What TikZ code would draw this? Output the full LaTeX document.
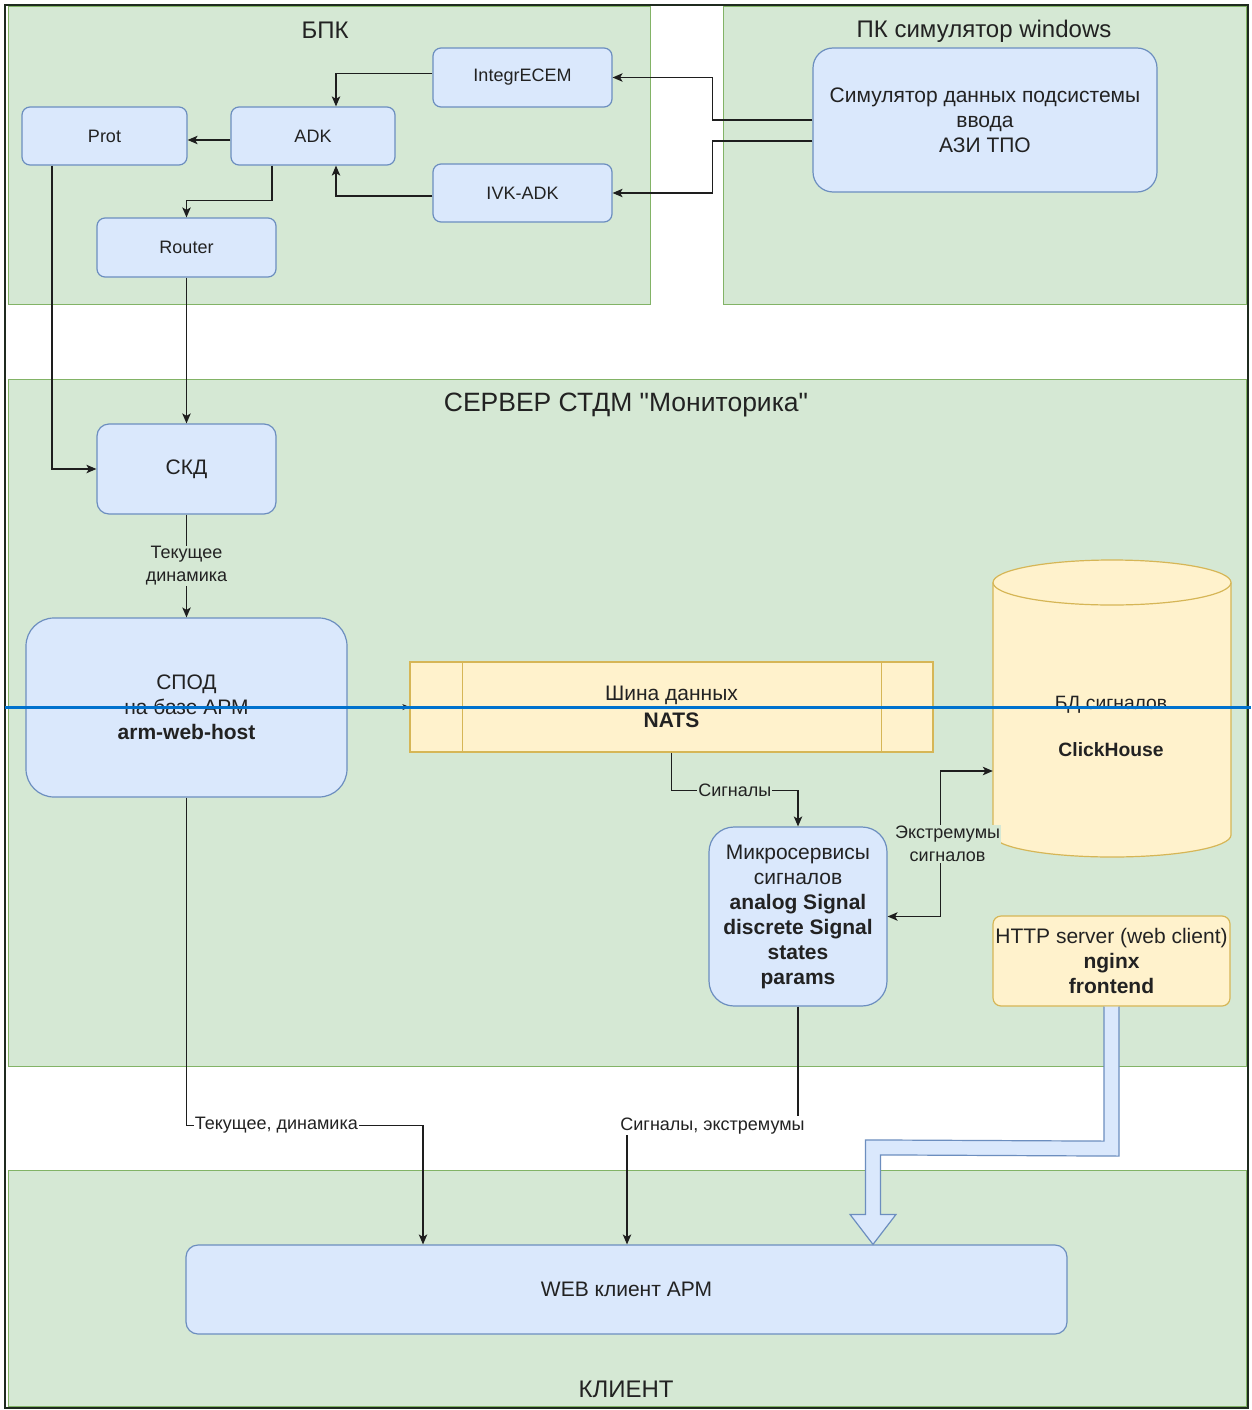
\documentclass[tikz,border=0pt]{standalone}
\usepackage{fontspec}
\setmainfont{Liberation Sans}[Ligatures=TeXOff]
\usetikzlibrary{arrows.meta,calc}
\definecolor{grpfill}{HTML}{D5E8D4}
\definecolor{grpline}{HTML}{82B366}
\definecolor{bfill}{HTML}{DAE8FC}
\definecolor{bline}{HTML}{6C8EBF}
\definecolor{yfill}{HTML}{FFF2CC}
\definecolor{yline}{HTML}{D6B656}
\definecolor{txt}{HTML}{222222}
\definecolor{edgecol}{HTML}{1E1E1E}
\definecolor{hiline}{RGB}{0,114,206}
\definecolor{frame}{HTML}{1F2A1F}
\begin{document}
\begin{tikzpicture}[x=1pt,y=-1pt,
  grp/.style={draw=grpline, fill=grpfill, line width=1pt},
  grptitle/.style={font=\fontsize{24}{28}\selectfont, text=txt, inner sep=0pt},
  bnode/.style={draw=bline, fill=bfill, line width=1.2pt, rounded corners=8pt, inner sep=0pt, text=txt, align=center, font=\fontsize{18}{22}\selectfont},
  bignode/.style={bnode, font=\fontsize{21}{25}\selectfont},
  ynode/.style={draw=yline, fill=yfill, line width=1.2pt, inner sep=0pt, text=txt, align=center, font=\fontsize{21}{25}\selectfont},
  arr/.style={draw=edgecol, line width=1.2pt, -{Stealth[length=10pt,width=8.5pt,inset=2.5pt]}},
  thinarr/.style={draw=edgecol, line width=0.8pt, -{Stealth[length=7pt,width=6pt,inset=2pt]}},
  elbl/.style={font=\fontsize{18}{23}\selectfont, text=txt, fill=grpfill, inner sep=1pt, align=center},
  elblw/.style={elbl, fill=white}
]
\useasboundingbox (0,0) rectangle (1251,1410);
\fill[white] (0,0) rectangle (1251,1410);

% groups
\draw[grp] (8,7) rectangle (650,304);
\draw[grp] (723,7) rectangle (1246,304);
\draw[grp] (8,379) rectangle (1246,1066);
\draw[grp] (8,1170) rectangle (1246,1406);
\node[grptitle] (tbpk) at (325,30) {БПК};
\node[grptitle] (tpk) at (984,31) {ПК симулятор windows};
\node[grptitle, font=\fontsize{26.5}{30}\selectfont] (tsrv) at (626,405) {СЕРВЕР СТДМ "Мониторика"};
\node[grptitle] (tcli) at (626,1389) {КЛИЕНТ};

% BPK nodes
\node[bnode, minimum width=179, minimum height=59] (integ) at (522.5,77.5) {IntegrECEM};
\node[bnode, minimum width=165, minimum height=58] (prot) at (104.5,136) {Prot};
\node[bnode, minimum width=164, minimum height=58] (adk) at (313,136) {ADK};
\node[bnode, minimum width=179, minimum height=58] (ivk) at (522.5,193) {IVK-ADK};
\node[bnode, minimum width=179, minimum height=59] (router) at (186.5,247.5) {Router};

% simulator
\node[bignode, rounded corners=20pt, minimum width=344, minimum height=144] (sim) at (985,120)
  {Симулятор данных подсистемы\\ввода\\АЗИ ТПО};

% server
\node[bignode, rounded corners=12pt, minimum width=179, minimum height=90] (skd) at (186.5,469) {СКД};
\node[bignode, rounded corners=28pt, minimum width=321, minimum height=179] (spod) at (186.5,707.5)
  {СПОД\\на базе АРМ\\\textbf{arm-web-host}};
\node[ynode, minimum width=523, minimum height=90] (nats) at (671.5,707)
  {Шина данных\\[2pt]\textbf{NATS}};
\draw[yline, line width=1.2pt] ($(nats.north west)+(53,0)$) -- ($(nats.south west)+(53,0)$);
\draw[yline, line width=1.2pt] ($(nats.north east)+(-52,0)$) -- ($(nats.south east)+(-52,0)$);

% database cylinder
\fill[yfill] (993,582) rectangle (1231,835);
\fill[yfill] (1112,835) ellipse [x radius=119, y radius=22];
\draw[yline, line width=1.2pt, fill=yfill] (1112,582.5) ellipse [x radius=119, y radius=22.5];
\draw[yline, line width=1.2pt] (993,582.5) -- (993,835)
  .. controls (993,847.2) and (1046.3,857) .. (1112,857)
  .. controls (1177.7,857) and (1231,847.2) .. (1231,835) -- (1231,582.5);
\node[minimum width=238, minimum height=297, inner sep=0pt] (db) at (1112,708.5) {};
\node[text=txt, align=center, font=\fontsize{19.3}{23.5}\selectfont, inner sep=0pt] (dbl) at (1111,726.5)
  {БД сигналов\\[23.5pt]\textbf{ClickHouse}};

\node[bignode, rounded corners=25pt, minimum width=178, minimum height=179] (micro) at (798,916.5)
  {Микросервисы\\сигналов\\\textbf{analog Signal}\\\textbf{discrete Signal}\\\textbf{states}\\\textbf{params}};
\node[ynode, rounded corners=8pt, minimum width=237, minimum height=90] (http) at (1111.5,961)
  {HTTP server (web client)\\\textbf{nginx}\\\textbf{frontend}};

% client
\node[bignode, rounded corners=12pt, minimum width=881, minimum height=89] (web) at (626.5,1289.5) {WEB клиент АРМ};

% connectors
\draw[arr] (sim.west) -- ++(-100,0) |- (integ.east);
\draw[arr] ($(sim.west)+(0,21)$) -- ++(-100,0) |- (ivk.east);
\draw[arr] ($(integ.west)+(0,-4)$) -| ($(adk.north)+(23,0)$);
\draw[arr] ($(ivk.west)+(0,3)$) -| ($(adk.south)+(23,0)$);
\draw[arr] ($(adk.west)+(0,4)$) -- ($(prot.east)+(0,4)$);
\draw[arr] ($(adk.south)+(-41,0)$) -- ++(0,35) -| (router.north);
\draw[arr] (router.south) -- (skd.north);
\draw[arr] ($(prot.south)+(-52.5,0)$) |- (skd.west);
\draw[arr] (skd.south) -- node[elbl] {Текущее\\динамика} (spod.north);
\draw[thinarr] (spod.east) -- (nats.west);
\draw[arr] (nats.south) -- ++(0,38) -| node[elbl, pos=0.25] {Сигналы} (micro.north);
\draw[draw=edgecol, line width=1.2pt, {Stealth[length=10pt,width=8.5pt,inset=2.5pt]}-{Stealth[length=10pt,width=8.5pt,inset=2.5pt]}]
  (micro.east) -- ++(53,0) |- node[elbl, pos=0.25, xshift=7pt] {Экстремумы\\сигналов} ($(db.west)+(0,62.5)$);
\draw[arr] (spod.south) -- ++(0,328) -| node[elblw, pos=0.19] {Текущее, динамика} ($(web.north)+(-203.5,0)$);
\draw[arr] (micro.south) -- ++(0,119) -| node[elblw, pos=0.25] {Сигналы, экстремумы} ($(web.north)+(0.5,0)$);

% block arrow HTTP -> WEB
\coordinate (hb) at (http.south);
\coordinate (tip) at ($(web.north)+(246.5,0)$);
\draw[draw=bline, fill=bfill, line width=1.2pt, line join=miter]
  ($(hb)+(-7.5,0)$) -- ($(hb)+(-7.5,134.5)$) -- ($(tip)+(-7.5,-104.5)$) -- ($(tip)+(-7.5,-30)$)
  -- ($(tip)+(-23,-30)$) -- (tip) -- ($(tip)+(23,-30)$) -- ($(tip)+(7.5,-30)$)
  -- ($(tip)+(7.5,-89.5)$) -- ($(hb)+(7.5,149.5)$) -- ($(hb)+(7.5,0)$);

% outer frame
\draw[frame, line width=2.5pt] (5,5) rectangle (1248,1408);

% highlight line
\draw[hiline, line width=3pt] (5,707.5) -- (1251,707.5);
\end{tikzpicture}
\end{document}
